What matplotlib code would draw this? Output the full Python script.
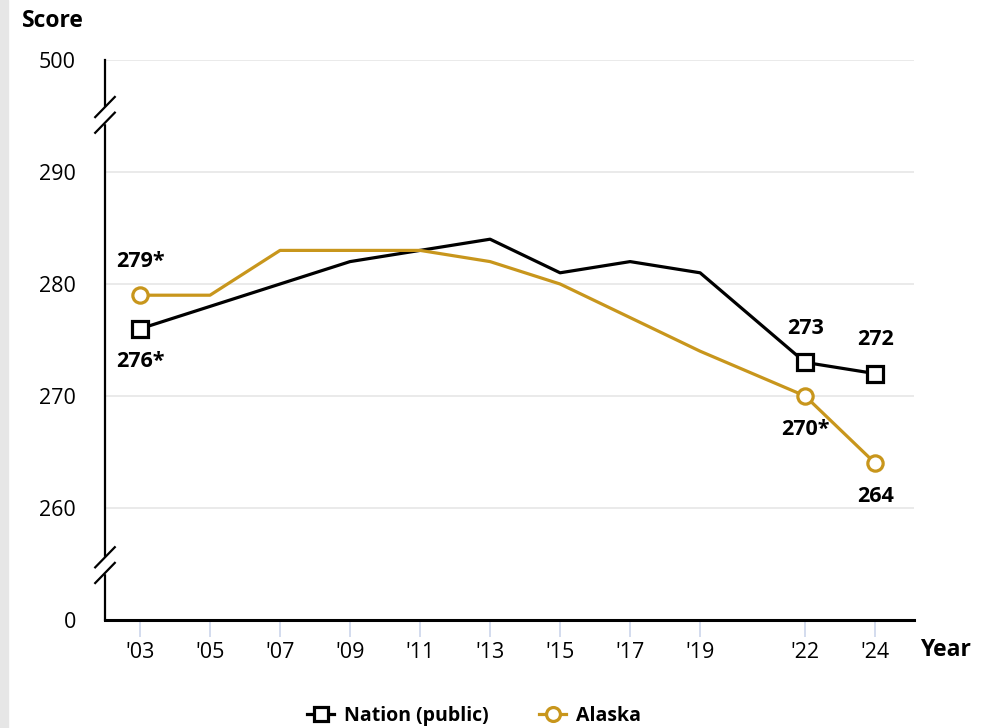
import matplotlib
matplotlib.use("Agg")
import matplotlib.pyplot as plt
from matplotlib.lines import Line2D
from matplotlib.patches import Rectangle

plt.rcParams['font.family'] = ['Open Sans', 'DejaVu Sans']

years = [2003, 2005, 2007, 2009, 2011, 2013, 2015, 2017, 2019, 2022, 2024]
year_labels = ["'03", "'05", "'07", "'09", "'11", "'13", "'15", "'17", "'19", "'22", "'24"]
nation = [276, 278, 280, 282, 283, 284, 281, 282, 281, 273, 272]
alaska = [279, 279, 283, 283, 283, 282, 280, 277, 274, 270, 264]
marked_years = [2003, 2022, 2024]
nation_labels = {2003: "276*", 2022: "273", 2024: "272"}
alaska_labels = {2003: "279*", 2022: "270*", 2024: "264"}
# broken axis: 250 stands for 0, 300 for 500
ytick_pos = [250, 260, 270, 280, 290, 300]
ytick_labels = ["0", "260", "270", "280", "290", "500"]

GOLD = "#C8961C"

fig = plt.figure(figsize=(9.96, 7.28), dpi=100)
fig.patches.append(Rectangle((0, 0), 8/996, 1, transform=fig.transFigure,
                             color="#e6e6e6", zorder=0))
ax = fig.add_axes([105/996, 108/728, (914-105)/996, (620-60)/728])
ax.set_xlim(2002.0, 2025.11)
ax.set_ylim(250, 300)

for y in ytick_pos[1:]:
    ax.axhline(y, color="#e6e6e6", lw=1.2, zorder=0)

ax.plot(years, nation, color="black", lw=2.3, zorder=3)
ax.plot(years, alaska, color=GOLD, lw=2.3, zorder=3)
ni = [years.index(y) for y in marked_years]
ax.plot([years[i] for i in ni], [nation[i] for i in ni], ls="none", marker="s",
        ms=11, mfc="white", mec="black", mew=2.3, zorder=4)
ax.plot([years[i] for i in ni], [alaska[i] for i in ni], ls="none", marker="o",
        ms=11, mfc="white", mec=GOLD, mew=2.3, zorder=4)

lab_kw = dict(fontsize=15.5, fontweight="bold", ha="center", va="center", zorder=5)
for y in marked_years:
    i = years.index(y)
    n, a = nation[i], alaska[i]
    n_off = -2.95 if n < a else 3.0
    a_off = 3.0 if a > n else -3.0
    ax.text(y, n + n_off, nation_labels[y], **lab_kw)
    ax.text(y, a + a_off, alaska_labels[y], **lab_kw)

for s in ["top", "right"]:
    ax.spines[s].set_visible(False)
ax.spines["left"].set_linewidth(1.6)
ax.spines["bottom"].set_linewidth(2.2)

ax.set_xticks(years)
ax.set_xticklabels(year_labels, fontsize=15.5)
ax.tick_params(axis="x", length=12, width=1.2, color="#ccd6eb", pad=4)
ax.set_yticks(ytick_pos)
ax.set_yticklabels(ytick_labels, fontsize=15.5)
ax.tick_params(axis="y", length=0, pad=21)

# axis break marks
for yb in [295.1, 254.9]:
    ax.add_patch(Rectangle((2001.9, yb - 0.7), 0.25, 1.4, color="white",
                           zorder=6, clip_on=False))
    for d in [-0.7, 0.7]:
        ax.add_line(Line2D([2001.72, 2002.28], [yb + d - 0.9, yb + d + 0.9],
                           color="black", lw=1.6, zorder=7, clip_on=False))

fig.text(22/996, 1 - 21/728, "Score", fontsize=16.5, fontweight="bold",
         ha="left", va="center")
fig.text(920/996, 1 - 650/728, "Year", fontsize=16.5, fontweight="bold",
         ha="left", va="center")

handles = [
    Line2D([], [], color="black", lw=2.3, marker="s", ms=10, mfc="white",
           mec="black", mew=2.3),
    Line2D([], [], color=GOLD, lw=2.3, marker="o", ms=10, mfc="white",
           mec=GOLD, mew=2.3),
]
fig.legend(handles, ["Nation (public)", "Alaska"], loc="center",
           bbox_to_anchor=(474/996, 1 - 716/728), ncol=2, frameon=False,
           prop={"size": 14, "weight": "bold"}, handlelength=1.4,
           columnspacing=2.6, handletextpad=0.5)

fig.savefig("out.png", dpi=100)
